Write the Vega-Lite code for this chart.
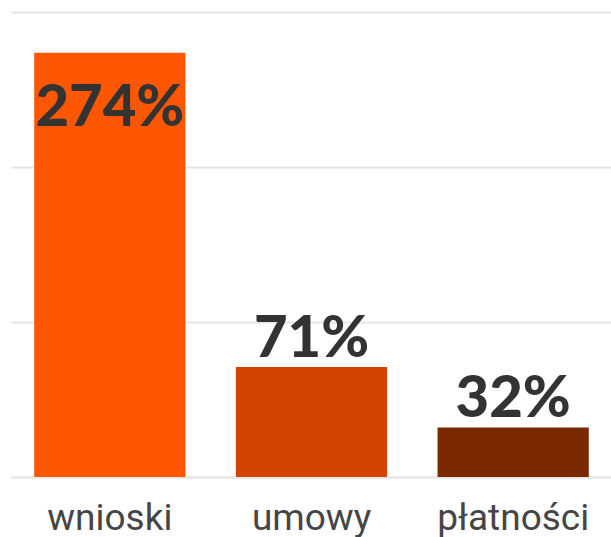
{
  "$schema": "https://vega.github.io/schema/vega-lite/v6.json",
  "width": 601,
  "height": 477,
  "padding": {"left": 11, "top": 0, "right": 0, "bottom": 60},
  "autosize": {"type": "none"},
  "background": "white",
  "config": {"view": {"stroke": null}},
  "data": {"values": [
    {"kategoria": "wnioski", "wartosc": 274, "etykieta": "274%"},
    {"kategoria": "umowy", "wartosc": 71, "etykieta": "71%"},
    {"kategoria": "płatności", "wartosc": 32, "etykieta": "32%"}
  ]},
  "encoding": {
    "x": {"field": "kategoria", "type": "nominal", "sort": null,
      "scale": {"paddingInner": 0.25, "paddingOuter": 0.115},
      "axis": {"title": null, "labelAngle": 0, "labelFont": "Roboto", "labelFontSize": 37, "labelFontWeight": 400, "labelColor": "#454545", "labelPadding": 23, "ticks": false, "domain": true, "domainColor": "#e6e6e6", "domainWidth": 2, "grid": false}},
    "y": {"field": "wartosc", "type": "quantitative",
      "scale": {"domain": [0, 308], "nice": false},
      "axis": {"title": null, "labels": false, "ticks": false, "domain": false, "values": [0, 100, 200, 300], "gridColor": "#e6e6e6", "gridWidth": 2}}
  },
  "layer": [
    {"mark": {"type": "bar"},
      "encoding": {"color": {"field": "kategoria", "type": "nominal", "sort": null, "legend": null,
        "scale": {"domain": ["wnioski", "umowy", "płatności"], "range": ["#FF5700", "#D24400", "#7A2900"]}}}},
    {"transform": [{"filter": "datum.wartosc < 200"}],
      "mark": {"type": "text", "font": "Lato", "fontWeight": 900, "fontSize": 58, "color": "#333333", "baseline": "alphabetic", "dy": -10},
      "encoding": {"text": {"field": "etykieta"}}},
    {"transform": [{"filter": "datum.wartosc >= 200"}],
      "mark": {"type": "text", "font": "Lato", "fontWeight": 900, "fontSize": 58, "color": "#333333", "baseline": "alphabetic", "dy": 73},
      "encoding": {"text": {"field": "etykieta"}}}
  ]
}
